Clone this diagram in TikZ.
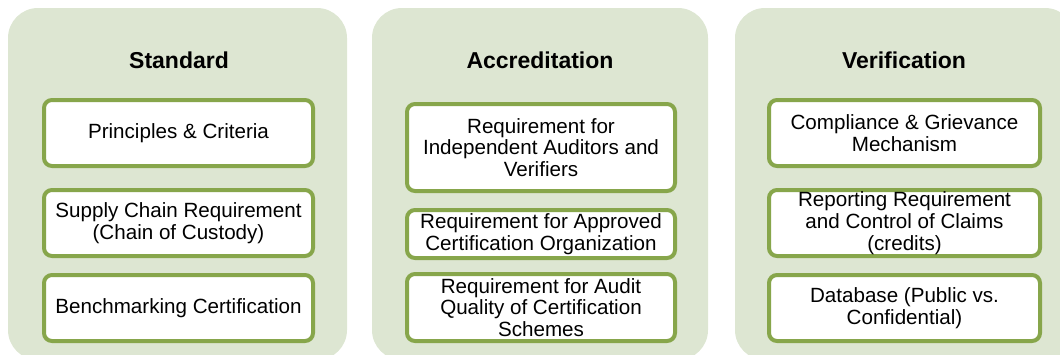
\documentclass[tikz,border=0pt]{standalone}
\usepackage{fontspec}
\setmainfont{Liberation Sans}
\definecolor{panelbg}{HTML}{DDE6D2}
\definecolor{boxline}{HTML}{87A64B}
\tikzset{
  panel/.style={fill=panelbg, rounded corners=30pt},
  paneltitle/.style={font=\fontsize{23}{26}\selectfont\bfseries},
  itembox/.style={draw=boxline, line width=4pt, fill=white, rounded corners=8pt,
    align=center, inner sep=0pt, font=\fontsize{20.6}{21.8}\selectfont},
}

\begin{document}
\begin{tikzpicture}[x=1pt, y=-1pt]
  %%%%% START %%%%%
  \useasboundingbox (0,0) rectangle (1060,354);
  \clip (0,0) rectangle (1060,354);

  % background panels
  \fill[panel] (8, 8) rectangle (347, 360);
  \fill[panel] (372, 8) rectangle (708, 360);
  \fill[panel] (735, 8) rectangle (1075, 360);

  % titles
  \node[paneltitle] (stdtitle) at (179, 60) {Standard};
  \node[paneltitle] (acctitle) at (540, 60) {Accreditation};
  \node[paneltitle] (vertitle) at (904, 60) {Verification};

  % standard
  \node[itembox, minimum width=269pt, minimum height=66pt] (std1) at (178.5, 133) {Principles \& Criteria};
  \node[itembox, minimum width=269pt, minimum height=66pt] (std2) at (178.5, 223) {Supply Chain Requirement\\(Chain of Custody)};
  \node[itembox, minimum width=269pt, minimum height=66pt] (std3) at (178.5, 308) {Benchmarking Certification};

  % accreditation
  \node[itembox, minimum width=268pt, minimum height=87pt] (acc1) at (541, 147.5) {Requirement for\\Independent Auditors and\\Verifiers};
  \node[itembox, minimum width=268pt, minimum height=48pt] (acc2) at (541, 234) {Requirement for Approved\\Certification Organization};
  \node[itembox, minimum width=268pt, minimum height=67pt] (acc3) at (541, 307.5) {Requirement for Audit\\Quality of Certification\\Schemes};

  % verification
  \node[itembox, minimum width=271pt, minimum height=66pt] (ver1) at (904.5, 133) {Compliance \& Grievance\\Mechanism};
  \node[itembox, minimum width=271pt, minimum height=66pt] (ver2) at (904.5, 223) {Reporting Requirement\\and Control of Claims\\(credits)};
  \node[itembox, minimum width=271pt, minimum height=66pt] (ver3) at (904.5, 308) {Database (Public vs.\\Confidential)};
  %%%%% END %%%%%
\end{tikzpicture}
\end{document}
